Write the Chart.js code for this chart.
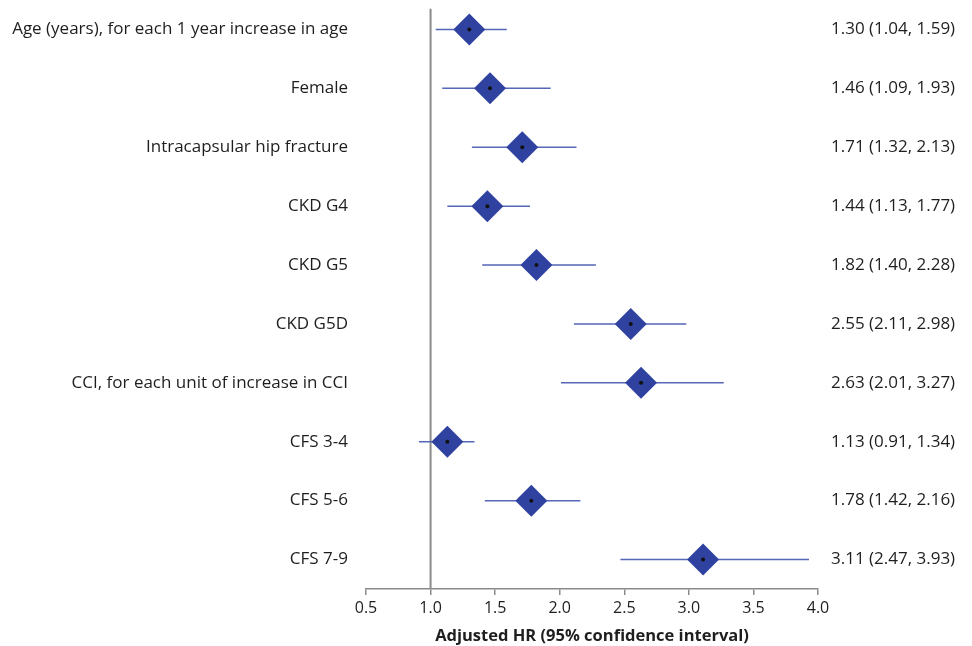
<!DOCTYPE html>
<html>
<head>
<meta charset="utf-8">
<script src="https://cdn.jsdelivr.net/npm/chart.js@4.4.1/dist/chart.umd.min.js"></script>
<style>
html,body{margin:0;padding:0;background:#fff;}
#wrap{width:972px;height:646px;position:relative;}
</style>
</head>
<body>
<div id="wrap"><canvas id="c" width="972" height="646"></canvas></div>
<script>
const categories = [
  "Age (years), for each 1 year increase in age",
  "Female",
  "Intracapsular hip fracture",
  "CKD G4",
  "CKD G5",
  "CKD G5D",
  "CCI, for each unit of increase in CCI",
  "CFS 3-4",
  "CFS 5-6",
  "CFS 7-9"
];
const hr    = [1.30, 1.46, 1.71, 1.44, 1.82, 2.55, 2.63, 1.13, 1.78, 3.11];
const lower = [1.04, 1.09, 1.32, 1.13, 1.40, 2.11, 2.01, 0.91, 1.42, 2.47];
const upper = [1.59, 1.93, 2.13, 1.77, 2.28, 2.98, 3.27, 1.34, 2.16, 3.93];
const xTicks = [0.5, 1.0, 1.5, 2.0, 2.5, 3.0, 3.5, 4.0];
const refValue = 1.0;
const xTitle = "Adjusted HR (95% confidence interval)";

const fmt = v => v.toFixed(2);
const rightLabels = hr.map((v, i) => `${fmt(v)} (${fmt(lower[i])}, ${fmt(upper[i])})`);

const points = hr.map((v, i) => ({x: v, y: i}));
const ciData = [];
lower.forEach((lo, i) => {
  ciData.push({x: lo, y: i});
  ciData.push({x: upper[i], y: i});
  ciData.push({x: NaN, y: NaN});
});
const refData = [{x: refValue, y: -0.35}, {x: refValue, y: 9.5}];

const FONT = "'Open Sans', Lato, sans-serif";
const TXT = '#1e1e1e';
const GRAY = '#8a8a8a';

const rowTicks = s => { s.ticks = categories.map((_, i) => ({value: i})); };

new Chart(document.getElementById('c'), {
  type: 'scatter',
  data: {
    datasets: [
      {data: points, pointStyle: 'circle', pointRadius: 2, pointBackgroundColor: '#111', pointBorderWidth: 0, showLine: false},
      {data: points, pointStyle: 'rectRot', pointRadius: 16, pointBackgroundColor: '#2f42a0', pointBorderColor: '#2f42a0', pointBorderWidth: 0, showLine: false},
      {data: ciData, showLine: true, spanGaps: false, borderColor: '#5666b8', borderWidth: 1.5, pointRadius: 0},
      {data: refData, showLine: true, borderColor: GRAY, borderWidth: 2, pointRadius: 0}
    ]
  },
  options: {
    responsive: false,
    animation: false,
    layout: {padding: 0, autoPadding: false},
    plugins: {legend: {display: false}, tooltip: {enabled: false}},
    scales: {
      x: {
        type: 'linear', position: 'bottom', min: 0.5, max: 4.0,
        afterBuildTicks: s => { s.ticks = xTicks.map(v => ({value: v})); },
        afterFit: s => { s.height = 57; s.paddingLeft = 0; s.paddingRight = 0; },
        grid: {display: true, drawOnChartArea: false, drawTicks: true, tickLength: 6, color: GRAY, lineWidth: 1.5},
        border: {display: true, color: GRAY, width: 1.5},
        ticks: {padding: 4, color: TXT, font: {family: FONT, size: 16}, callback: v => v.toFixed(1), maxRotation: 0},
        title: {display: true, text: xTitle, color: TXT, font: {family: FONT, size: 16.5, weight: 'bold'}, padding: {top: 0, bottom: 0}}
      },
      y: {
        type: 'linear', position: 'left', min: -0.5, max: 9.5, reverse: true,
        afterBuildTicks: rowTicks,
        afterFit: s => { s.width = 366; s.paddingTop = 0; s.paddingBottom = 0; },
        grid: {display: false, drawTicks: false},
        border: {display: false},
        ticks: {padding: 18, color: TXT, font: {family: FONT, size: 17}, callback: v => categories[v]}
      },
      y2: {
        type: 'linear', position: 'right', min: -0.5, max: 9.5, reverse: true,
        afterBuildTicks: rowTicks,
        afterFit: s => { s.width = 154; s.paddingTop = 0; s.paddingBottom = 0; },
        grid: {display: false, drawTicks: false},
        border: {display: false},
        ticks: {padding: 13, color: TXT, font: {family: FONT, size: 17}, callback: v => rightLabels[v]}
      }
    }
  }
});
</script>
</body>
</html>
